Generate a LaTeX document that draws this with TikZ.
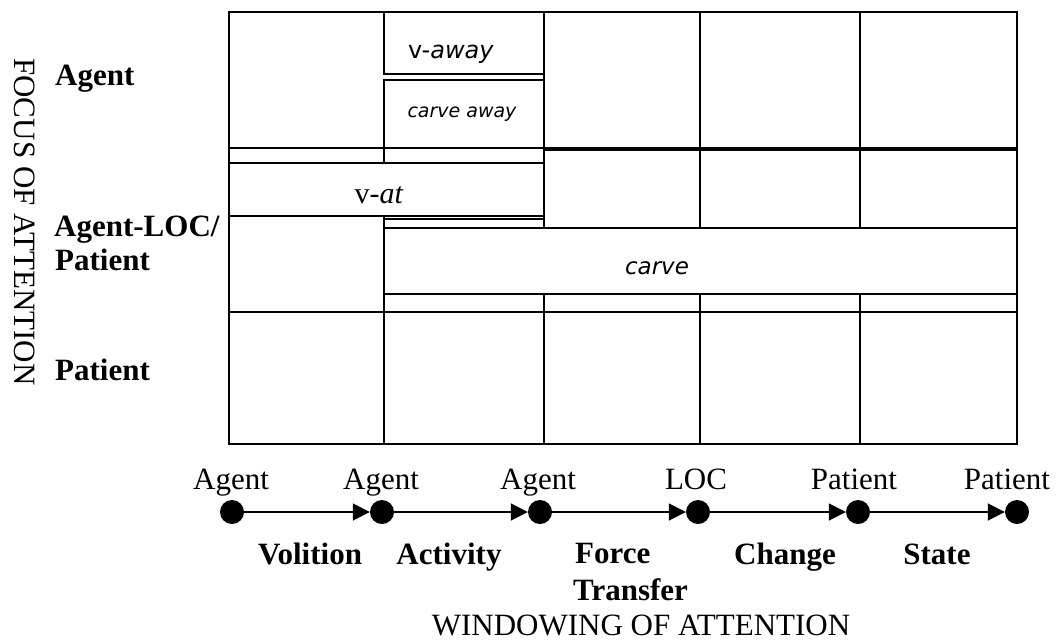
\documentclass[tikz,border=0pt]{standalone}
\usepackage{fontspec}
\setmainfont{Liberation Serif}
\newfontfamily\boxsans{DejaVu Sans}
\usetikzlibrary{arrows.meta}
\begin{document}
\begin{tikzpicture}[x=1pt,y=-1pt,
  gridline/.style={line width=1.3pt},
  boxline/.style={line width=1.6pt},
  frameline/.style={line width=2.6pt},
  dot/.style={circle,fill=black,minimum size=24pt,inner sep=0pt},
  flow/.style={line width=1.8pt,-{Triangle[length=17pt,width=17pt]}},
  lab/.style={font=\fontsize{31}{34}\selectfont,inner sep=0pt},
  blab/.style={font=\fontsize{31}{34}\selectfont\bfseries,inner sep=0pt},
  cell/.style={inner sep=0pt}
]
\useasboundingbox (0,0) rectangle (1057,640);

% horizontal grid lines
\draw[gridline] (229,148) -- (1017,148);
\draw[gridline] (544,150) -- (1017,150);
\draw[gridline] (229,312) -- (1017,312);
\draw[gridline] (384,219) -- (544,219);
% v-at box
\draw[boxline] (229,163) rectangle (544,216);
% carve box
\draw[boxline] (384,228) rectangle (1017,294);
% vertical grid lines
\draw[gridline] (384,148) -- (384,163);
\draw[gridline] (384,216) -- (384,444);
\draw[gridline] (544,12) -- (544,228);
\draw[gridline] (544,294) -- (544,444);
\draw[gridline] (700,12) -- (700,228);
\draw[gridline] (700,294) -- (700,444);
\draw[gridline] (860,12) -- (860,228);
\draw[gridline] (860,294) -- (860,444);
% v-away and carve away boxes
\draw[boxline] (384,12) rectangle (544,74);
\draw[boxline] (384,80) rectangle (544,148);
% outer frame
\draw[frameline] (229,12) rectangle (1017,444);

% texts in boxes
\node[cell,anchor=base] (vaway) at (451,58) {\fontsize{24}{28}\boxsans v-\textit{away}};
\node[cell,anchor=base] (carveaway) at (462,117) {\fontsize{19}{22}\boxsans\itshape carve away};
\node[cell,anchor=base] (vat) at (379,203) {\fontsize{30}{34}\selectfont v-\textit{at}};
\node[cell,anchor=base] (carve) at (657,274) {\fontsize{23}{27}\boxsans\itshape carve};

% focus axis
\node[lab,rotate=-90,anchor=base] (focus) at (14,222) {FOCUS OF ATTENTION};
\node[blab,anchor=base west] (fagent) at (55,85) {Agent};
\node[blab,anchor=base west] (floc) at (54,236) {Agent-LOC/};
\node[blab,anchor=base west] (fpat1) at (55,270) {Patient};
\node[blab,anchor=base west] (fpat2) at (55,380) {Patient};

% windowing axis
\node[dot] (d1) at (232,512) {};
\node[dot] (d2) at (382,512) {};
\node[dot] (d3) at (540,512) {};
\node[dot] (d4) at (698,512) {};
\node[dot] (d5) at (858,512) {};
\node[dot] (d6) at (1017,512) {};
\draw[flow] (d1) -- (d2);
\draw[flow] (d2) -- (d3);
\draw[flow] (d3) -- (d4);
\draw[flow] (d4) -- (d5);
\draw[flow] (d5) -- (d6);

\node[lab,anchor=base] (l1) at (231,489) {Agent};
\node[lab,anchor=base] (l2) at (381,489) {Agent};
\node[lab,anchor=base] (l3) at (538,489) {Agent};
\node[lab,anchor=base] (l4) at (696,489) {LOC};
\node[lab,anchor=base] (l5) at (854,489) {Patient};
\node[lab,anchor=base] (l6) at (1007,489) {Patient};

\node[blab,anchor=base] (volition) at (310,564) {Volition};
\node[blab,anchor=base] (activity) at (449,564) {Activity};
\node[blab,anchor=base west] (force) at (575,563) {Force};
\node[blab,anchor=base west] (transfer) at (573,600) {Transfer};
\node[blab,anchor=base] (change) at (785,564) {Change};
\node[blab,anchor=base] (state) at (937,564) {State};
\node[lab,anchor=base] (window) at (641,635) {WINDOWING OF ATTENTION};
\end{tikzpicture}
\end{document}
